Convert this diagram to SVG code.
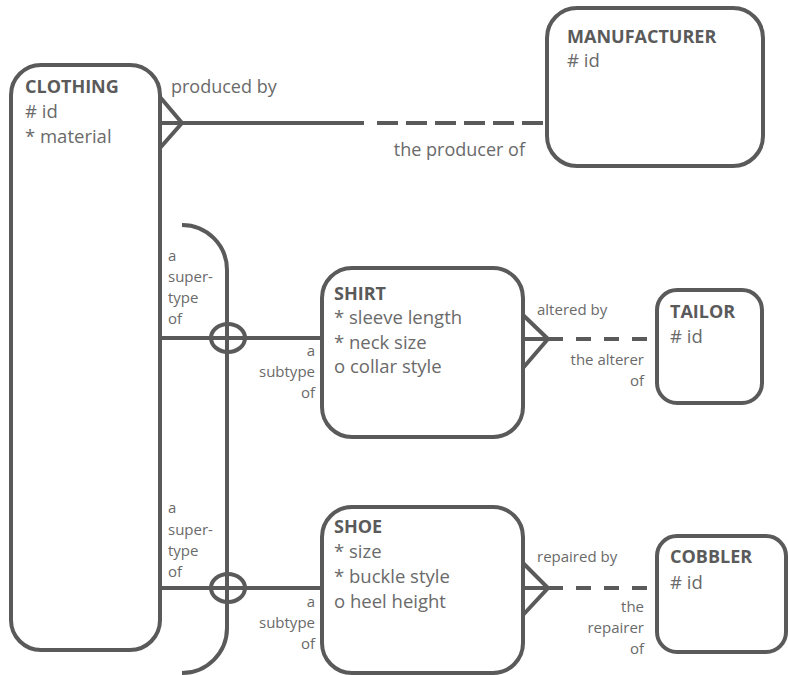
<svg xmlns="http://www.w3.org/2000/svg" width="788" height="675" viewBox="0 0 788 675">
<style>
.box{fill:#fff;stroke:#5a5a5a;stroke-width:4}
.ln{fill:none;stroke:#5a5a5a;stroke-width:4}
.dash{fill:none;stroke:#5a5a5a;stroke-width:4;stroke-dasharray:21 8}
.dash2{fill:none;stroke:#5a5a5a;stroke-width:4;stroke-dasharray:15 13}
text{font-family:"Open Sans","Liberation Sans",sans-serif;fill:#6a6a6a}
.h{font-weight:bold;font-size:18px;fill:#5a5a5a}
.a{font-size:18.5px}
.l{font-size:15px}
.lb{font-size:18px}
.r{text-anchor:end}
</style>
<rect width="788" height="675" fill="#fff"/>
<g id="connectors">
<path class="ln" d="M160 123H364"/>
<path class="dash" d="M377 123H547"/>
<path class="ln" d="M160 97L182 123L160 148"/>
<path class="ln" d="M182 225A45 45 0 0 1 227 270V628A45 45 0 0 1 182 673"/>
<path class="ln" d="M160 338H322"/>
<ellipse class="ln" cx="228" cy="338" rx="17" ry="14"/>
<path class="ln" d="M160 588H322"/>
<ellipse class="ln" cx="228" cy="588" rx="17" ry="14"/>
<path class="ln" d="M523 339H548"/>
<path class="ln" d="M523 315L548 339L523 368"/>
<path class="dash2" d="M548 339H657"/>
<path class="ln" d="M523 588H548"/>
<path class="ln" d="M523 563L548 588L523 615"/>
<path class="dash2" d="M548 588H657"/>
<text class="lb" x="171" y="93">produced by</text>
<text class="lb r" x="525" y="156">the producer of</text>
<text class="l" x="168" y="261">a</text>
<text class="l" x="168" y="282">super-</text>
<text class="l" x="168" y="303">type</text>
<text class="l" x="168" y="324">of</text>
<text class="l r" x="315" y="356">a</text>
<text class="l r" x="315" y="377">subtype</text>
<text class="l r" x="315" y="398">of</text>
<text class="l" x="168" y="513">a</text>
<text class="l" x="168" y="535">super-</text>
<text class="l" x="168" y="556">type</text>
<text class="l" x="168" y="577">of</text>
<text class="l r" x="315" y="607">a</text>
<text class="l r" x="315" y="628">subtype</text>
<text class="l r" x="315" y="649">of</text>
<text class="l" x="537" y="315">altered by</text>
<text class="l r" x="644" y="365">the alterer</text>
<text class="l r" x="644" y="386">of</text>
<text class="l" x="537" y="562">repaired by</text>
<text class="l r" x="644" y="612">the</text>
<text class="l r" x="644" y="633">repairer</text>
<text class="l r" x="644" y="654">of</text>
</g>
<g id="clothing">
<rect class="box" x="11" y="65" width="149" height="585" rx="30"/>
<text class="h" x="25" y="93">CLOTHING</text>
<text class="a" x="25" y="118"># id</text>
<text class="a" x="25" y="143">* material</text>
</g>
<g id="manufacturer">
<rect class="box" x="547" y="8" width="216" height="158" rx="30"/>
<text class="h" x="567" y="43">MANUFACTURER</text>
<text class="a" x="567" y="67"># id</text>
</g>
<g id="shirt">
<rect class="box" x="322" y="268" width="201" height="169" rx="30"/>
<text class="h" x="334" y="300">SHIRT</text>
<text class="a" x="334" y="324">* sleeve length</text>
<text class="a" x="334" y="349">* neck size</text>
<text class="a" x="334" y="373">o collar style</text>
</g>
<g id="shoe">
<rect class="box" x="322" y="507" width="201" height="166" rx="30"/>
<text class="h" x="334" y="533">SHOE</text>
<text class="a" x="334" y="558">* size</text>
<text class="a" x="334" y="583">* buckle style</text>
<text class="a" x="334" y="608">o heel height</text>
</g>
<g id="tailor">
<rect class="box" x="657" y="290" width="105" height="113" rx="20"/>
<text class="h" x="670" y="318">TAILOR</text>
<text class="a" x="670" y="343"># id</text>
</g>
<g id="cobbler">
<rect class="box" x="657" y="536" width="129" height="116" rx="20"/>
<text class="h" x="670" y="563">COBBLER</text>
<text class="a" x="670" y="589"># id</text>
</g>
</svg>
